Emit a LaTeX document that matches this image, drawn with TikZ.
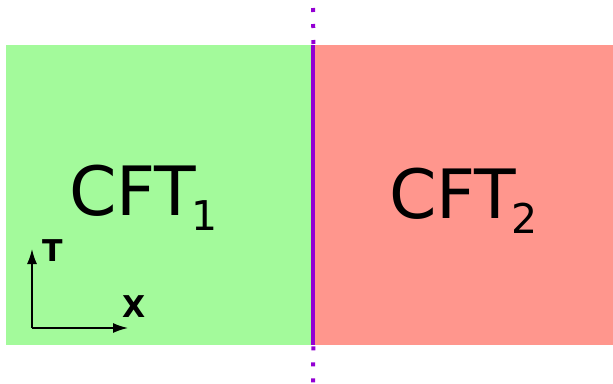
\documentclass[tikz,border=0pt]{standalone}
\usepackage{fontspec}
\usepackage{tikz}
\usetikzlibrary{positioning,calc,arrows.meta}
\newfontfamily\dejavu{DejaVu Sans}
\definecolor{cftgreen}{RGB}{163,250,155}
\definecolor{cftred}{RGB}{255,150,141}
\definecolor{wallpurple}{RGB}{148,0,211}
\newcommand{\cftlabel}[4]{
	\node [anchor=base west, inner sep=0pt, font=\dejavu\fontsize{68}{68}\selectfont] (#1) at (#2, #3)
		{CFT\kern-5pt\raisebox{-15pt}{\fontsize{41}{41}\selectfont #4}};
}
\tikzset{
	half/.style={draw=none, inner sep=0pt, minimum height=300pt, anchor=north west},
	axis/.style={line width=1.5pt, -{Latex[length=15pt, width=10pt]}},
	axislabel/.style={anchor=base west, inner sep=0pt, font=\dejavu\bfseries\fontsize{30}{30}\selectfont},
	wall/.style={wallpurple, line width=4pt},
	walldots/.style={wallpurple, line width=4pt, dash pattern=on 4pt off 12pt}
}

\begin{document}
\begin{tikzpicture}[x=1pt, y=-1pt]
		\useasboundingbox (0,0) rectangle (613,383);
		\node [half, fill=cftgreen, minimum width=307pt] (left) at (6,45) {};
		\node [half, fill=cftred, minimum width=300pt] (right) at (313,45) {};
		
		\cftlabel{cft1}{69}{215}{1}
		\cftlabel{cft2}{389}{218}{2}
		
		\coordinate (wtop) at (313,0);
		\coordinate (wbot) at (313,383);
		\draw [wall] (left.north east) -- (left.south east);
		\draw [walldots] ($(left.north east)+(0,-1)$) -- (wtop);
		\draw [walldots] ($(left.south east)+(0,1)$) -- (wbot);
		
		\coordinate (o) at (32,328);
		\coordinate (tend) at (32,249);
		\coordinate (xend) at (128,328);
		\draw [axis] (o) -- (tend);
		\draw [axis] (o) -- (xend);
		\node [axislabel] (tlab) at (42,261) {T};
		\node [axislabel] (xlab) at (122,317) {X};
\end{tikzpicture}
\end{document}
